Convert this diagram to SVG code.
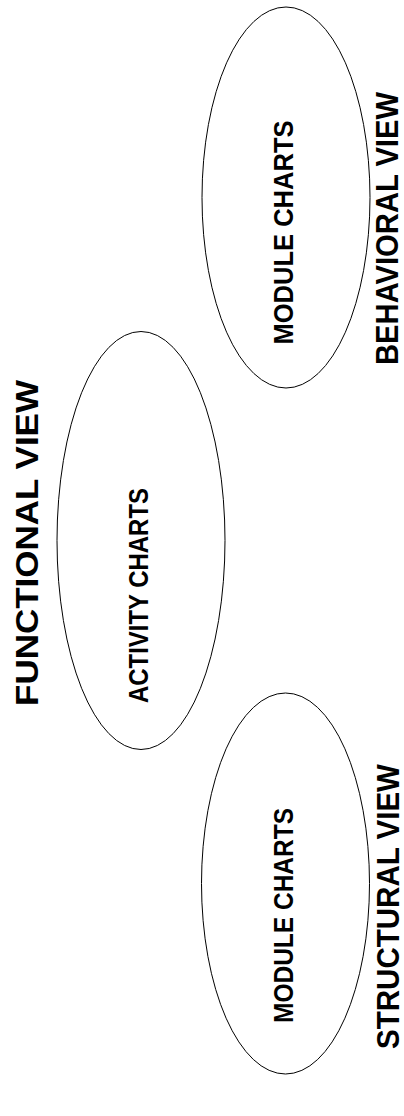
<svg xmlns="http://www.w3.org/2000/svg" width="404" height="1116" viewBox="0 0 404 1116">
  <style>
    .chart { fill: #ffffff; stroke: #000000; stroke-width: 1; }
    .inner { font-family: "Liberation Sans", Arial, sans-serif; font-weight: bold; font-size: 28.5px; fill: #000000; text-anchor: middle; }
    .view { font-family: "Liberation Sans", Arial, sans-serif; font-weight: bold; font-size: 32px; fill: #000000; text-anchor: middle; }
  </style>
  <rect width="404" height="1116" fill="#ffffff"/>

  <!-- behavioral view: module charts -->
  <g id="behavioral">
    <ellipse class="chart" cx="286" cy="197.5" rx="84" ry="190.5"/>
    <text class="inner" transform="translate(292.5,232.5) rotate(-90)" textLength="224" lengthAdjust="spacingAndGlyphs">MODULE CHARTS</text>
    <text class="view" transform="translate(398,228.5) rotate(-90)" textLength="273" lengthAdjust="spacingAndGlyphs">BEHAVIORAL VIEW</text>
  </g>

  <!-- functional view: activity charts -->
  <g id="functional">
    <ellipse class="chart" cx="141" cy="540.5" rx="84" ry="209"/>
    <text class="inner" transform="translate(148,595.5) rotate(-90)" textLength="215" lengthAdjust="spacingAndGlyphs">ACTIVITY CHARTS</text>
    <text class="view" transform="translate(38,543) rotate(-90)" textLength="326" lengthAdjust="spacingAndGlyphs">FUNCTIONAL VIEW</text>
  </g>

  <!-- structural view: module charts -->
  <g id="structural">
    <ellipse class="chart" cx="285.5" cy="883.5" rx="84" ry="190.5"/>
    <text class="inner" transform="translate(292.5,915.5) rotate(-90)" textLength="215" lengthAdjust="spacingAndGlyphs">MODULE CHARTS</text>
    <text class="view" transform="translate(398.5,906.5) rotate(-90)" textLength="285" lengthAdjust="spacingAndGlyphs">STRUCTURAL VIEW</text>
  </g>

  <g id="connectors"/>
</svg>
